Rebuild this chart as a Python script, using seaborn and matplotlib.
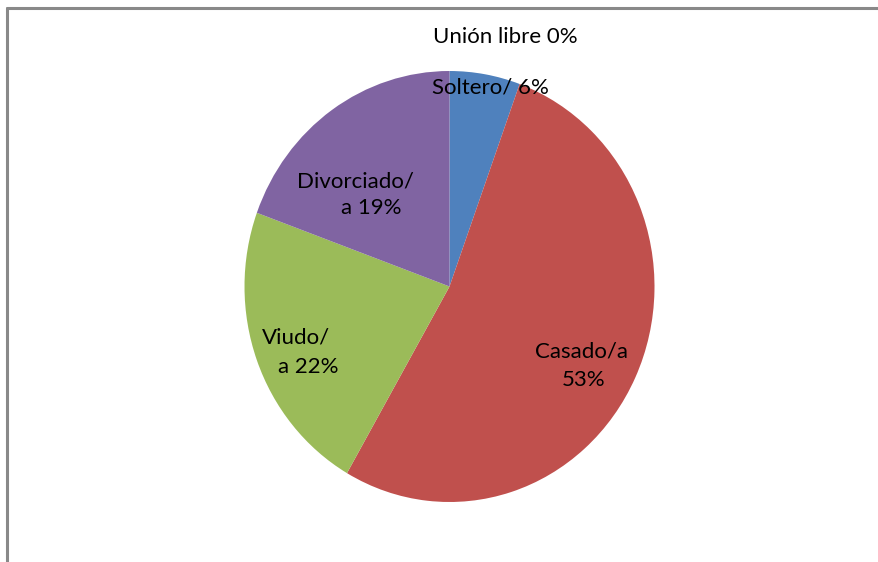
import matplotlib
matplotlib.use("Agg")
import matplotlib.pyplot as plt
from matplotlib.lines import Line2D
import seaborn as sns

# Data (counts; labels show rounded percentages)
categories = ["Soltero/", "Casado/a", "Viudo/a", "Divorciado/a", "Unión libre"]
counts = [2, 19, 8, 7, 0]
label_lines = [["Soltero/ 6%"], ["Casado/a", "53%"], ["Viudo/", "a 22%"],
               ["Divorciado/", "a 19%"], ["Unión libre 0%"]]

sns.set_theme(style="white")
plt.rcParams["font.family"] = ["Lato", "DejaVu Sans"]

colors = sns.color_palette(["#4F81BD", "#C0504D", "#9BBB59", "#8064A2", "#4BACC6"])

W, H = 879, 562
fig = plt.figure(figsize=(W / 100, H / 100), dpi=100)
fig.patch.set_facecolor("white")

# pie axes (elliptical like the reference)
cx, cy, rx, ry = 449.5, 286.5, 205.0, 215.5
ax = fig.add_axes([(cx - rx) / W, (H - cy - ry) / H, 2 * rx / W, 2 * ry / H])
ax.pie(counts, colors=colors, startangle=90, counterclock=False,
       wedgeprops=dict(linewidth=0))
ax.set_aspect("auto")
ax.set_xlim(-1, 1)
ax.set_ylim(-1, 1)
ax.axis("off")

# label line centres in pixels (layout)
label_pos = [
    [(490, 87)],
    [(582, 351), (584, 380)],
    [(296, 337), (308, 367)],
    [(355, 181), (371, 208)],
    [(505, 37)],
]

for lines, poss in zip(label_lines, label_pos):
    for txt, (px, py) in zip(lines, poss):
        fig.text(px / W, 1 - py / H, txt, ha="center", va="center",
                 fontsize=16, color="#000000")

# chart border (top and left visible)
bc = "#898989"
fig.add_artist(Line2D([7 / W, 1.0], [1 - 7.5 / H, 1 - 7.5 / H], color=bc, lw=2.2,
                      transform=fig.transFigure))
fig.add_artist(Line2D([7.5 / W, 7.5 / W], [0, 1 - 7.5 / H], color=bc, lw=2.2,
                      transform=fig.transFigure))

fig.savefig("out.png", dpi=100, facecolor="white")
